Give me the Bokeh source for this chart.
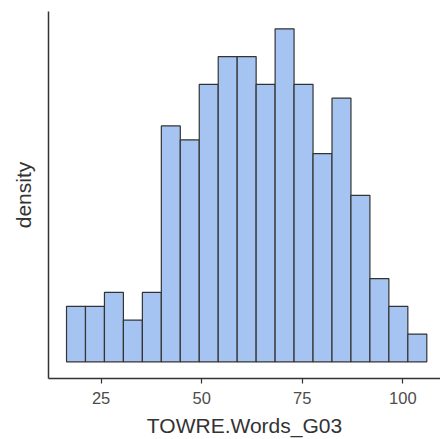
from bokeh.plotting import figure
from bokeh.embed import file_html
from bokeh.resources import INLINE
from bokeh.models import Range1d, FixedTicker
import numpy as np

# Histogram data
counts = [4, 4, 5, 3, 5, 17, 16, 20, 22, 22, 20, 24, 20, 15, 19, 12, 6, 4, 2]
bin_start = 16.41
bin_width = 4.713
x_ticks = [25, 50, 75, 100]
x_label = "TOWRE.Words_G03"
y_label = "density"

n = len(counts)
total = sum(counts)
lefts = [bin_start + i * bin_width for i in range(n)]
rights = [l + bin_width for l in lefts]
dens = [c / (total * bin_width) for c in counts]

ymax = max(dens)
pad = ymax * 0.05
xlo = bin_start - (n * bin_width) * 0.05

p = figure(width=440, height=439, output_backend="svg", toolbar_location=None,
           x_range=Range1d(xlo, 109.36), y_range=Range1d(-pad, ymax + pad * 1.04),
           min_border_left=48, min_border_right=0, min_border_top=11, min_border_bottom=0)

p.quad(left=lefts, right=rights, bottom=0, top=dens,
       fill_color="#A6C4F1", line_color="#333333", line_width=1.2)

p.grid.visible = False
p.outline_line_color = None
p.background_fill_color = "white"
p.border_fill_color = "white"

p.xaxis.ticker = FixedTicker(ticks=x_ticks)
p.xaxis.minor_tick_line_color = None
p.xaxis.major_tick_in = 0
p.xaxis.major_tick_out = 5
p.xaxis.major_tick_line_color = "#333333"
p.xaxis.major_tick_line_width = 1.2
p.xaxis.axis_line_color = "#333333"
p.xaxis.axis_line_width = 1.5
p.xaxis.major_label_text_font = "Liberation Sans"
p.xaxis.major_label_text_font_size = "16.5px"
p.xaxis.major_label_text_color = "#4D4D4D"
p.xaxis.major_label_standoff = 8
p.xaxis.axis_label = x_label
p.xaxis.axis_label_text_font = "Liberation Sans"
p.xaxis.axis_label_text_font_size = "21px"
p.xaxis.axis_label_text_font_style = "normal"
p.xaxis.axis_label_text_color = "#333333"
p.xaxis.axis_label_standoff = 7

p.yaxis.ticker = FixedTicker(ticks=[])
p.yaxis.minor_tick_line_color = None
p.yaxis.major_tick_line_color = None
p.yaxis.axis_line_color = "#333333"
p.yaxis.axis_line_width = 1.5
p.yaxis.axis_label = y_label
p.yaxis.axis_label_text_font = "Liberation Sans"
p.yaxis.axis_label_text_font_size = "21px"
p.yaxis.axis_label_text_font_style = "normal"
p.yaxis.axis_label_text_color = "#333333"
p.yaxis.axis_label_standoff = 14

open("out.html", "w").write(file_html(p, INLINE))
